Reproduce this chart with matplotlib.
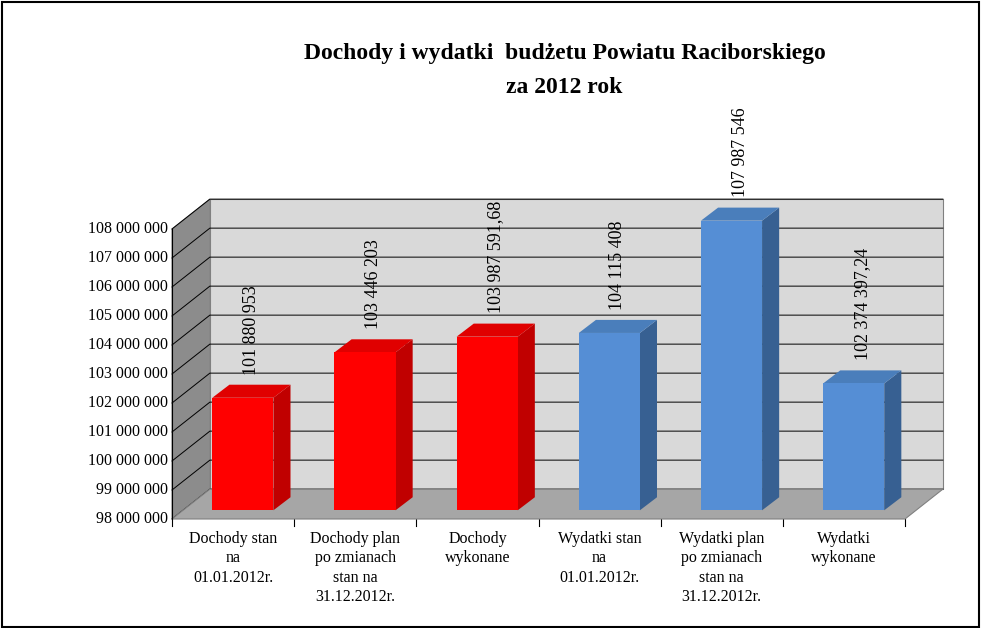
import matplotlib.pyplot as plt
from matplotlib.patches import Polygon, Rectangle
import numpy as np

categories = ["Dochody stan\nna\n01.01.2012r.", "Dochody plan\npo zmianach\nstan na\n31.12.2012r.",
              "Dochody\nwykonane", "Wydatki stan\nna\n01.01.2012r.",
              "Wydatki plan\npo zmianach\nstan na\n31.12.2012r.", "Wydatki\nwykonane"]
values = [101880953, 103446203, 103987591.68, 104115408, 107987546, 102374397.24]
value_labels = ["101 880 953", "103 446 203", "103 987 591,68", "104 115 408", "107 987 546", "102 374 397,24"]
ticks = np.arange(98, 109)  # millions

plt.rcParams["font.family"] = "Liberation Serif"
fig = plt.figure(figsize=(9.82, 6.28), dpi=100)
fig.patches.append(Rectangle((0.002, 0.002), 0.995, 0.995, transform=fig.transFigure,
                             fill=False, ec="black", lw=1.5))
ax = fig.add_axes([172/982, 109/628, 733/982, 290/628])
ax.set_xlim(-0.5, 5.5)
ax.set_ylim(98, 108)
ax.axis("off")

dx, dy = 0.31, 1.03
x0, x1 = -0.5, 5.5
# walls
ax.add_patch(Polygon([(x0+dx, 98+dy), (x1+dx, 98+dy), (x1+dx, 108+dy), (x0+dx, 108+dy)],
                     fc="#d9d9d9", ec="#808080", lw=0.8, clip_on=False, zorder=1))
ax.add_patch(Polygon([(x0, 98), (x0+dx, 98+dy), (x0+dx, 108+dy), (x0, 108)],
                     fc="#8c8c8c", ec="#808080", lw=0.8, clip_on=False, zorder=1))
for t in ticks:
    ax.plot([x0, x0+dx, x1+dx], [t, t+dy, t+dy], color="black", lw=0.7, clip_on=False, zorder=2)
    ax.text(x0-0.03, t, f"{t} 000 000", ha="right", va="center", fontsize=11.5)
ax.add_patch(Polygon([(x0, 98), (x1, 98), (x1+dx, 98+dy), (x0+dx, 98+dy)],
                     fc="#a6a6a6", ec="#808080", lw=0.8, clip_on=False, zorder=3))
ax.plot([x0, x0], [98, 108], color="black", lw=0.8, clip_on=False, zorder=3)
for i in range(7):
    ax.plot([x0+i, x0+i], [98, 97.75], color="black", lw=0.8, clip_on=False)

w, ox, oy, bdx, bdy = 0.5, 0.08, 0.3, 0.14, 0.45
for i, (v, lab, cat) in enumerate(zip(values, value_labels, categories)):
    vm = v / 1e6
    if i < 3:
        front, side, top = "#ff0000", "#c00000", "#e00000"
    else:
        front, side, top = "#558ed5", "#376092", "#4a7ebb"
    l, r, b, tp = i - w/2 + ox, i + w/2 + ox, 98 + oy, vm + oy
    ax.add_patch(Polygon([(r, b), (r+bdx, b+bdy), (r+bdx, tp+bdy), (r, tp)], fc=side, clip_on=False, zorder=4))
    ax.add_patch(Polygon([(l, tp), (r, tp), (r+bdx, tp+bdy), (l+bdx, tp+bdy)], fc=top, clip_on=False, zorder=4))
    ax.add_patch(Rectangle((l, b), w, tp-b, fc=front, clip_on=False, zorder=5))
    ax.text(i + ox + bdx/2, tp + bdy + 0.35, lab, rotation=90, ha="center", va="bottom", fontsize=13, zorder=6)
    ax.text(i, 97.6, cat, ha="center", va="top", fontsize=11.5, linespacing=1.3)

fig.text(0.575, 0.915, "Dochody i wydatki  budżetu Powiatu Raciborskiego", ha="center", va="center",
         fontsize=17, fontweight="bold")
fig.text(0.575, 0.86, "za 2012 rok", ha="center", va="center", fontsize=17, fontweight="bold")
fig.savefig("out.png", dpi=100)
